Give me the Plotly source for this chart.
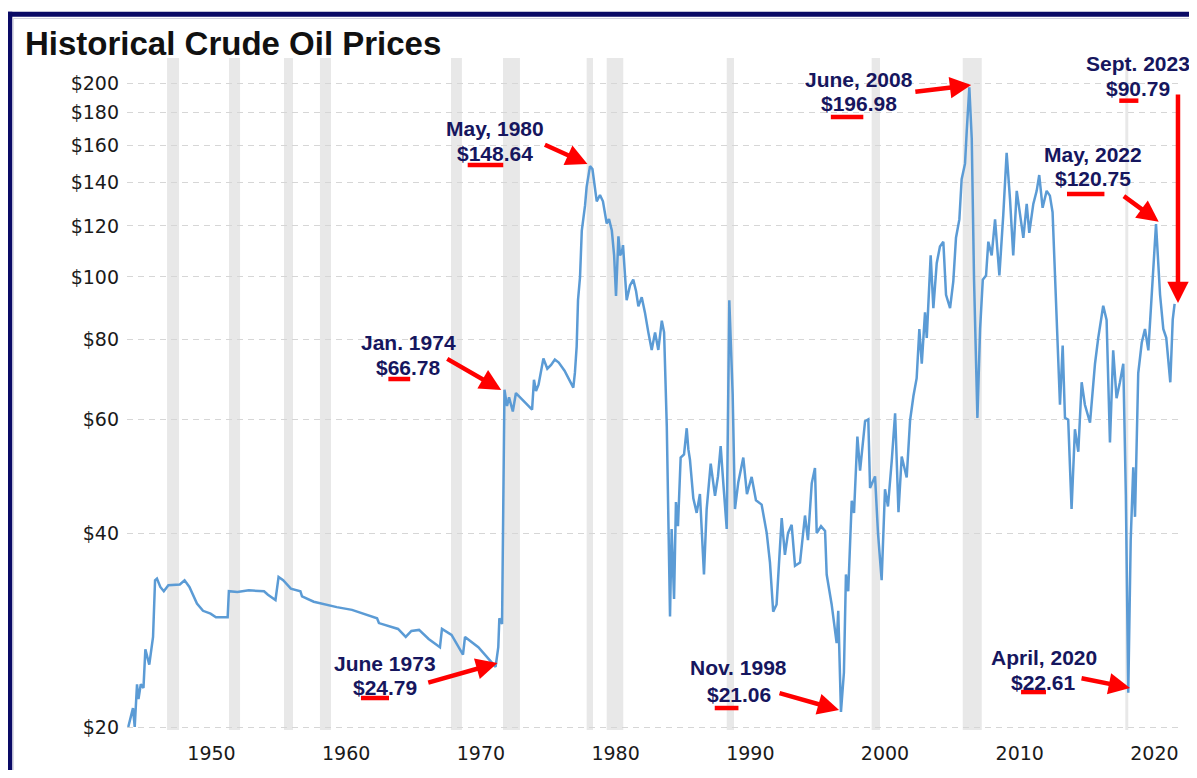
import plotly.graph_objects as go

# ---------------- data (axis years as drawn on the reference) ----------------
years = [
    1943.82, 1944.17, 1944.30, 1944.47, 1944.58, 1944.75, 1944.95, 1945.09, 1945.38, 1945.66,
    1945.81, 1945.95, 1946.20, 1946.46, 1946.80, 1947.65, 1948.00, 1948.36, 1948.92, 1949.37,
    1949.93, 1950.33, 1951.20, 1951.29, 1951.92, 1952.77, 1953.90, 1954.19, 1954.75, 1954.98,
    1955.32, 1955.89, 1956.60, 1956.72, 1957.59, 1958.45, 1959.30, 1960.43, 1961.29, 1962.29,
    1962.43, 1963.85, 1964.42, 1964.84, 1965.41, 1966.12, 1966.96, 1967.11, 1967.82, 1968.67,
    1968.82, 1969.81, 1971.09, 1971.29, 1971.37, 1971.57, 1971.75, 1971.94, 1972.09, 1972.37,
    1972.60, 1972.98, 1973.42, 1973.80, 1973.94, 1974.09, 1974.28, 1974.64, 1974.93, 1975.21,
    1975.49, 1975.78, 1976.21, 1976.54, 1976.86, 1976.98, 1977.11, 1977.21, 1977.36, 1977.49,
    1977.58, 1977.73, 1977.85, 1977.95, 1978.10, 1978.28, 1978.47, 1978.60, 1978.84, 1979.06,
    1979.34, 1979.51, 1979.72, 1979.89, 1980.03, 1980.21, 1980.33, 1980.46, 1980.55, 1980.82,
    1981.07, 1981.31, 1981.52, 1981.69, 1981.94, 1982.18, 1982.43, 1982.68, 1982.93, 1983.17,
    1983.43, 1983.60, 1983.80, 1983.91, 1984.04, 1984.16, 1984.34, 1984.48, 1984.63, 1984.83,
    1985.08, 1985.28, 1985.40, 1985.52, 1985.77, 1986.02, 1986.26, 1986.56, 1986.76, 1987.06,
    1987.23, 1987.38, 1987.60, 1987.80, 1987.99, 1988.25, 1988.44, 1988.57, 1988.69, 1988.86,
    1989.11, 1989.48, 1989.75, 1990.10, 1990.42, 1990.84, 1991.22, 1991.46, 1991.70, 1991.95,
    1992.33, 1992.57, 1992.80, 1993.07, 1993.32, 1993.69, 1994.06, 1994.28, 1994.56, 1994.80,
    1994.93, 1995.25, 1995.55, 1995.67, 1996.04, 1996.41, 1996.53, 1996.73, 1996.95, 1997.10,
    1997.27, 1997.53, 1997.70, 1997.95, 1998.15, 1998.52, 1998.76, 1998.89, 1999.26, 1999.48,
    1999.75, 2000.00, 2000.22, 2000.50, 2000.75, 2001.00, 2001.24, 2001.61, 2001.86, 2002.11,
    2002.35, 2002.55, 2002.73, 2002.97, 2003.10, 2003.39, 2003.59, 2003.84, 2004.08, 2004.33,
    2004.53, 2004.83, 2005.07, 2005.27, 2005.52, 2005.69, 2005.94, 2006.07, 2006.26, 2006.44,
    2006.61, 2006.86, 2007.06, 2007.26, 2007.50, 2007.67, 2007.92, 2008.17, 2008.34, 2008.49,
    2008.78, 2009.03, 2009.28, 2009.52, 2009.78, 2010.02, 2010.27, 2010.52, 2010.71, 2011.01,
    2011.26, 2011.45, 2011.70, 2012.00, 2012.24, 2012.44, 2012.74, 2012.99, 2013.19, 2013.36,
    2013.60, 2013.85, 2014.10, 2014.35, 2014.60, 2014.84, 2015.22, 2015.59, 2015.83, 2016.20,
    2016.45, 2016.70, 2016.94, 2017.19, 2017.44, 2017.69, 2017.88, 2018.06, 2018.24, 2018.43,
    2018.56, 2018.80, 2019.06, 2019.30, 2019.55, 2019.80, 2020.12, 2020.42, 2020.66, 2020.88,
    2021.18, 2021.36, 2021.50,
]
prices = [
    20.0, 21.4, 20.0, 23.3, 22.1, 23.3, 23.0, 26.4, 25.0, 27.6,
    33.8, 34.0, 33.0, 32.5, 33.2, 33.3, 33.8, 33.0, 31.1, 30.3,
    30.0, 29.6, 29.6, 32.5, 32.4, 32.6, 32.5, 32.1, 31.5, 34.2,
    33.8, 32.8, 32.5, 31.9, 31.3, 31.0, 30.7, 30.4, 30.0, 29.5,
    29.0, 28.4, 27.6, 28.2, 28.3, 27.4, 26.6, 28.4, 27.8, 25.9,
    27.6, 26.6, 24.8, 26.6, 29.5, 28.9, 66.8, 63.0, 65.0, 61.8,
    66.0, 64.8, 63.5, 62.2, 69.2, 66.5, 68.0, 74.7, 72.0, 73.0,
    74.4, 73.6, 71.5, 69.5, 67.3, 71.0, 78.0, 92.0, 100.0, 118.0,
    122.0, 129.0, 138.0, 142.0, 148.6, 147.0, 137.0, 131.0, 134.0, 131.0,
    121.0, 123.0, 118.0, 108.0, 93.4, 115.6, 108.0, 109.0, 112.0, 92.0,
    97.0, 99.0, 95.0, 90.0, 93.0, 88.0, 82.0, 77.0, 82.0, 77.0,
    85.5, 82.0, 58.6, 40.0, 29.7, 40.6, 31.6, 44.7, 41.0, 52.4,
    53.0, 58.2, 54.0, 52.0, 45.3, 43.0, 46.0, 34.5, 43.6, 51.3,
    48.0, 45.7, 49.0, 54.6, 48.0, 40.6, 92.0, 75.0, 65.8, 43.6,
    48.0, 52.4, 46.0, 48.9, 45.0, 44.3, 40.0, 36.0, 30.2, 31.0,
    42.2, 37.0, 40.0, 41.2, 35.6, 36.0, 42.6, 39.0, 47.8, 50.5,
    40.0, 41.0, 40.3, 34.5, 31.0, 27.0, 30.3, 21.1, 24.3, 34.5,
    32.5, 44.9, 43.0, 56.5, 50.0, 59.7, 60.1, 47.0, 49.0, 40.0,
    33.8, 46.8, 44.0, 51.8, 61.4, 43.1, 52.6, 48.8, 59.8, 65.3,
    69.6, 83.0, 73.3, 88.1, 80.4, 108.0, 89.4, 105.0, 111.5, 113.4,
    93.8, 89.4, 98.4, 115.0, 122.8, 141.8, 149.9, 168.8, 197.0, 163.9,
    99.0, 60.4, 83.0, 99.0, 100.5, 113.4, 108.0, 122.8, 108.0, 100.5,
    124.8, 155.8, 132.0, 108.0, 136.0, 126.0, 115.0, 129.8, 117.0, 129.8,
    136.0, 143.9, 128.0, 136.0, 133.7, 126.0, 83.0, 63.3, 78.2, 60.4,
    60.0, 43.6, 58.0, 53.5, 68.6, 63.3, 59.4, 73.3, 80.4, 90.2,
    85.7, 55.3, 76.9, 64.8, 68.6, 73.3, 45.8, 22.6, 39.0, 50.6,
    42.4, 70.9, 79.0, 83.0, 76.9, 93.8, 120.8, 93.8, 83.0, 80.4,
    68.6, 85.8, 90.8,
]

# recession shading (axis years)
recession_starts = [1946.70, 1951.30, 1955.38, 1958.05, 1967.78, 1971.64, 1977.85, 1979.34,
                    1988.25, 1999.01, 2005.77, 2017.84]
recession_ends = [1947.59, 1952.12, 1956.05, 1958.87, 1968.59, 1972.90, 1978.32, 1980.57,
                  1988.79, 1999.63, 2007.18, 2018.06]

# axis ticks
x_tickvals = [1950, 1960, 1970, 1980, 1990, 2000, 2010, 2020]
y_tickvals = [20, 40, 60, 80, 100, 120, 140, 160, 180, 200]
y_ticktext = ["$20", "$40", "$60", "$80", "$100", "$120", "$140", "$160", "$180", "$200"]

# call-outs: date line, price line
callout_dates = ["May, 1980", "Jan. 1974", "June 1973", "Nov. 1998", "April, 2020",
                 "June, 2008", "Sept. 2023", "May, 2022"]
callout_prices = ["$148.64", "$66.78", "$24.79", "$21.06", "$22.61",
                  "$196.98", "$90.79", "$120.75"]
# text centres (x in axis years, y in log10 price)
callout_x = [1971.01, 1964.66, 1962.90, 1989.13, 2011.80, 1998.07, 2018.77, 2015.46]
callout_date_y = [2.23116, 1.89886, 1.40041, 1.39420, 1.40973, 2.30724, 2.33209, 2.19078]
callout_price_y = [2.19234, 1.86004, 1.36314, 1.35227, 1.37091, 2.26998, 2.29327, 2.15352]
# red underline under the whole-dollar digits
underline_x0 = [1969.02, 1963.13, 1961.10, 1987.36, 2010.10, 1995.98, 2017.39, 2013.51]
underline_x1 = [1971.66, 1964.75, 1963.18, 1989.12, 2011.95, 1998.39, 2018.81, 2016.29]
underline_y = [0.8408, 0.5223, 0.0476, 0.0327, 0.0565, 0.9122, 0.9365, 0.7976]
# red arrows: tail -> head
arrow_tail_x = [1974.64, 1967.39, 1965.98, 1992.06, 2014.48, 2002.14, 2021.75, 2017.62]
arrow_tail_y = [2.20631, 1.87401, 1.36935, 1.35429, 1.37712, 2.28706, 2.28550, 2.12712]
arrow_head_x = [1977.91, 1971.51, 1971.23, 1996.59, 2018.19, 2006.40, 2021.75, 2020.32]
arrow_head_y = [2.17526, 1.82432, 1.40041, 1.32743, 1.36159, 2.29793, 1.95942, 2.08567]

# ---------------- figure ----------------
W, H = 1181, 762
L, R, T, B = 119, 9, 50, 40
PW, PH = W - L - R, H - T - B


def px_x(fx):
    return (fx - L) / PW


def px_y(fy):
    return (H - B - fy) / PH


NAVY_TEXT = "#16165e"
RED = "#ff0000"
LABEL_FONT = "Liberation Sans, Arial, sans-serif"
TICK_FONT = "DejaVu Sans, Verdana, sans-serif"

fig = go.Figure()
fig.add_trace(go.Scatter(
    x=years, y=prices, mode="lines",
    line=dict(color="#5b9bd5", width=2.5),
    hoverinfo="skip", showlegend=False,
))

shapes = []
for s, e in zip(recession_starts, recession_ends):
    shapes.append(dict(type="rect", xref="x", yref="paper", x0=s, x1=e, y0=0, y1=1,
                       fillcolor="#e8e8e8", line=dict(width=0), layer="below"))
for x0, x1, y in zip(underline_x0, underline_x1, underline_y):
    shapes.append(dict(type="line", xref="x", yref="paper", x0=x0, x1=x1, y0=y, y1=y,
                       line=dict(color=RED, width=4.5), layer="above"))
# frame of the screenshot: navy top and left borders, thin inner line
shapes.append(dict(type="rect", xref="paper", yref="paper",
                   x0=px_x(-0.7), x1=px_x(1200), y0=px_y(3.7), y1=px_y(8.7),
                   fillcolor="#0a0a66", line=dict(width=0), layer="above"))
shapes.append(dict(type="rect", xref="paper", yref="paper",
                   x0=px_x(-0.7), x1=px_x(4.3), y0=px_y(3.7), y1=px_y(775),
                   fillcolor="#0a0a66", line=dict(width=0), layer="above"))
shapes.append(dict(type="line", xref="paper", yref="paper",
                   x0=px_x(5.3), x1=px_x(1200), y0=px_y(10.5), y1=px_y(10.5),
                   line=dict(color="#d2d2de", width=1), layer="above"))
shapes.append(dict(type="line", xref="paper", yref="paper",
                   x0=px_x(5.3), x1=px_x(5.3), y0=px_y(10.5), y1=px_y(775),
                   line=dict(color="#d2d2de", width=1), layer="above"))

annotations = []
for i in range(len(callout_dates)):
    for txt, yy in ((callout_dates[i], callout_date_y[i]), (callout_prices[i], callout_price_y[i])):
        annotations.append(dict(
            x=callout_x[i], y=yy, xref="x", yref="y", text="<b>%s</b>" % txt,
            showarrow=False, xanchor="center", yanchor="middle",
            font=dict(family=LABEL_FONT, size=21, color=NAVY_TEXT),
        ))
    annotations.append(dict(
        x=arrow_head_x[i], y=arrow_head_y[i], ax=arrow_tail_x[i], ay=arrow_tail_y[i],
        xref="x", yref="y", axref="x", ayref="y", text="",
        showarrow=True, arrowhead=2, arrowsize=0.95, arrowwidth=4.5, arrowcolor=RED,
    ))

fig.update_layout(
    width=W, height=H,
    margin=dict(l=L, r=R, t=T, b=B, autoexpand=False),
    paper_bgcolor="white", plot_bgcolor="white",
    title=dict(text="<b>Historical Crude Oil Prices</b>",
               font=dict(family=LABEL_FONT, size=33, color="#111111"),
               x=17 / W, xanchor="left", xref="container",
               y=1 - 35 / H, yanchor="middle", yref="container"),
    xaxis=dict(range=[1943.727, 2021.90], tickvals=x_tickvals, automargin=False,
               showgrid=False, zeroline=False, showline=False, ticks="",
               ticklabelstandoff=10,
               tickfont=dict(family=TICK_FONT, size=19, color="#1a1a1a")),
    yaxis=dict(type="log", range=[1.29637, 2.33985], automargin=False,
               tickvals=y_tickvals, ticktext=y_ticktext,
               showgrid=True, gridcolor="#d6d6d6", gridwidth=1, griddash="6px,5px",
               zeroline=False, showline=False, ticks="", ticklabelstandoff=7,
               tickfont=dict(family=TICK_FONT, size=19, color="#1a1a1a")),
    shapes=shapes,
    annotations=annotations,
    showlegend=False,
)

fig.write_html("out.html")
